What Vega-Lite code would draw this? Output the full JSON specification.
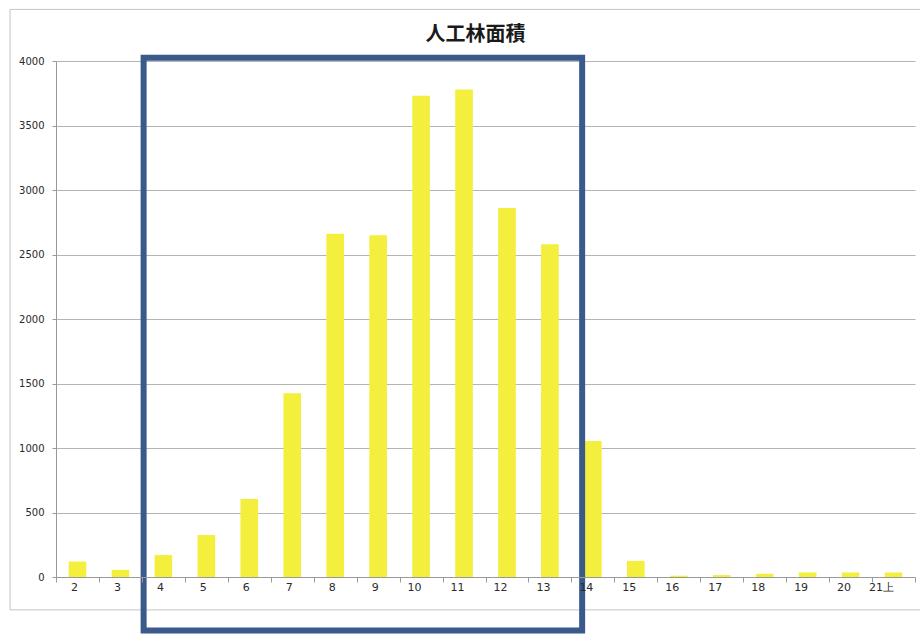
{
  "$schema": "https://vega.github.io/schema/vega-lite/v6.json",
  "autosize": "none",
  "width": 859,
  "height": 516,
  "padding": {"left": 56, "top": 61, "right": 5, "bottom": 57},
  "background": "white",
  "title": {
    "text": "人工林面積",
    "font": "Noto Sans CJK JP",
    "fontSize": 20,
    "fontWeight": "bold",
    "color": "#1a1a1a",
    "anchor": "middle",
    "offset": 0,
    "dy": 36,
    "dx": -10,
    "limit": 0
  },
  "config": {
    "view": {"stroke": null},
    "title": {"letterSpacing": 3},
    "axis": {
      "labelFont": "DejaVu Sans",
      "labelFontSize": 10,
      "labelColor": "#2a2a2a",
      "domainColor": "#999999",
      "tickColor": "#999999",
      "gridColor": "#b4b4b4",
      "title": null
    }
  },
  "datasets": {
    "areas": [
      {"year": "2", "area": 120},
      {"year": "3", "area": 55},
      {"year": "4", "area": 170},
      {"year": "5", "area": 325},
      {"year": "6", "area": 605},
      {"year": "7", "area": 1425},
      {"year": "8", "area": 2660},
      {"year": "9", "area": 2650},
      {"year": "10", "area": 3730},
      {"year": "11", "area": 3780},
      {"year": "12", "area": 2860},
      {"year": "13", "area": 2580},
      {"year": "14", "area": 1055},
      {"year": "15", "area": 125},
      {"year": "16", "area": 10},
      {"year": "17", "area": 15},
      {"year": "18", "area": 25},
      {"year": "19", "area": 35},
      {"year": "20", "area": 35},
      {"year": "21上", "area": 35}
    ]
  },
  "layer": [
    {
      "data": {"values": [{"from": "2", "to": "21上", "top": 4400, "bottom": -255}]},
      "mark": {"type": "rect", "fill": null, "stroke": "#c4c4c4", "strokeWidth": 1},
      "encoding": {
        "x": {"field": "from", "type": "nominal", "bandPosition": -1.07, "sort": null, "scale": {"domain": ["2","3","4","5","6","7","8","9","10","11","12","13","14","15","16","17","18","19","20","21上"]}},
        "x2": {"field": "to", "bandPosition": 1.3},
        "y": {"field": "top", "type": "quantitative"},
        "y2": {"field": "bottom"}
      }
    },
    {
      "data": {"name": "areas"},
      "mark": {"type": "bar", "color": "#f3ef3c", "width": {"band": 0.41}},
      "encoding": {
        "x": {
          "field": "year",
          "type": "nominal",
          "sort": null,
          "scale": {"domain": ["2","3","4","5","6","7","8","9","10","11","12","13","14","15","16","17","18","19","20","21上"], "paddingInner": 0, "paddingOuter": 0},
          "axis": {"labelAngle": 0, "tickBand": "extent", "tickSize": 5, "labelPadding": 5, "labelFontSize": 11, "grid": false}
        },
        "y": {
          "field": "area",
          "type": "quantitative",
          "scale": {"domain": [0, 4000], "nice": false},
          "axis": {"values": [0,500,1000,1500,2000,2500,3000,3500,4000], "format": "d", "tickSize": 4, "labelPadding": 8, "grid": true}
        }
      }
    },
    {
      "data": {"values": [{"from": "4", "to": "13", "top": 4025, "bottom": -415}]},
      "mark": {"type": "rect", "fill": null, "stroke": "#3b5a8c", "strokeWidth": 6},
      "encoding": {
        "x": {"field": "from", "type": "nominal", "bandPosition": 0.04, "sort": null},
        "x2": {"field": "to", "bandPosition": 1.25},
        "y": {"field": "top", "type": "quantitative"},
        "y2": {"field": "bottom"}
      }
    }
  ]
}
